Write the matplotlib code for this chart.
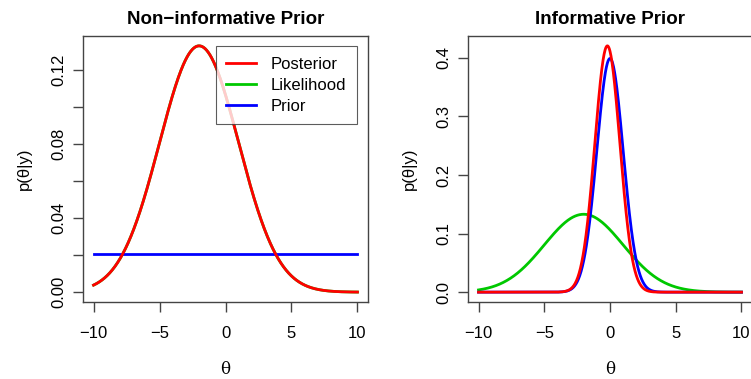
import numpy as np
import matplotlib
matplotlib.use("Agg")
import matplotlib.pyplot as plt
from matplotlib.lines import Line2D

# ---- data (distribution parameters) ----
theta_range = [-10, 10]
# Non-informative panel
flat_prior_height = 0.0205
lik_mean, lik_sd = -2.0, 3.0
post1_mean, post1_sd = -2.0, 3.0
# Informative panel
prior_mean, prior_sd = 0.0, 1.0
post2_mean, post2_sd = -0.2, 0.9487

titles = ["Non\u2212informative Prior", "Informative Prior"]
legend_labels = ["Posterior", "Likelihood", "Prior"]
colors = {"Posterior": "#FF0000", "Likelihood": "#00C800", "Prior": "#0000FF"}
yticks_left = [0.00, 0.02, 0.04, 0.06, 0.08, 0.10, 0.12]
yticklabels_left = ["0.00", "", "0.04", "", "0.08", "", "0.12"]
yticks_right = [0.0, 0.1, 0.2, 0.3, 0.4]
yticklabels_right = ["0.0", "0.1", "0.2", "0.3", "0.4"]
xticks = [-10, -5, 0, 5, 10]
xticklabels = ["\u221210", "\u22125", "0", "5", "10"]


def dnorm(x, m, s):
    return np.exp(-0.5 * ((x - m) / s) ** 2) / (s * np.sqrt(2 * np.pi))


x = np.linspace(theta_range[0], theta_range[1], 801)

plt.rcParams["font.family"] = ["Liberation Sans", "DejaVu Sans"]
fig = plt.figure(figsize=(7.51, 3.79), dpi=100)

W, H = 751, 379
def add_ax(l, t, r, b):
    return fig.add_axes([l / W, 1 - b / H, (r - l) / W, (b - t) / H])

ax1 = add_ax(83, 36, 368, 302)
ax2 = add_ax(468, 36, 752, 302)

lw = 2.0
# Left panel
ax1.plot(x, dnorm(x, lik_mean, lik_sd), color=colors["Likelihood"], lw=lw)
ax1.plot(theta_range, [flat_prior_height, flat_prior_height], color=colors["Prior"], lw=lw)
ax1.plot(x, dnorm(x, post1_mean, post1_sd), color=colors["Posterior"], lw=lw)
ymax1 = dnorm(post1_mean, post1_mean, post1_sd)
ax1.set_ylim(-0.04 * ymax1, ymax1 * 1.04)
ax1.set_yticks(yticks_left)
ax1.set_yticklabels(yticklabels_left)

# Right panel
ax2.plot(x, dnorm(x, lik_mean, lik_sd), color=colors["Likelihood"], lw=lw)
ax2.plot(x, dnorm(x, prior_mean, prior_sd), color=colors["Prior"], lw=lw)
ax2.plot(x, dnorm(x, post2_mean, post2_sd), color=colors["Posterior"], lw=lw)
ymax2 = dnorm(post2_mean, post2_mean, post2_sd)
ax2.set_ylim(-0.04 * ymax2, ymax2 * 1.04)
ax2.set_yticks(yticks_right)
ax2.set_yticklabels(yticklabels_right)

for ax, title in zip((ax1, ax2), titles):
    ax.set_xlim(-10.8, 10.8)
    ax.set_xticks(xticks)
    ax.set_xticklabels(xticklabels)
    ax.tick_params(axis="both", direction="out", length=7, width=1,
                   color="#444444", labelsize=12)
    ax.tick_params(axis="x", pad=10)
    ax.tick_params(axis="y", pad=5)
    for lab in ax.get_yticklabels():
        lab.set_rotation(90)
        lab.set_va("center")
    for sp in ax.spines.values():
        sp.set_color("#444444")
        sp.set_linewidth(1)
    ax.set_title(title, fontsize=13.5, fontweight="bold", pad=9)
    ax.set_xlabel("\u03b8", fontsize=12, family=["DejaVu Serif"], labelpad=15)
    ax.set_ylabel("p(\u03b8|y)", fontsize=12, labelpad=14)

handles = [Line2D([], [], color=colors[k], lw=lw) for k in legend_labels]
leg = ax1.legend(handles, legend_labels, loc="upper right",
                 bbox_to_anchor=(0.9614, 0.9624), fontsize=12,
                 frameon=True, fancybox=False, handlelength=1.8,
                 handletextpad=0.85, labelspacing=0.35, borderpad=0.65,
                 borderaxespad=0)
leg.get_frame().set_edgecolor("#333333")
leg.get_frame().set_linewidth(0.8)

fig.savefig("out.png", dpi=100)
